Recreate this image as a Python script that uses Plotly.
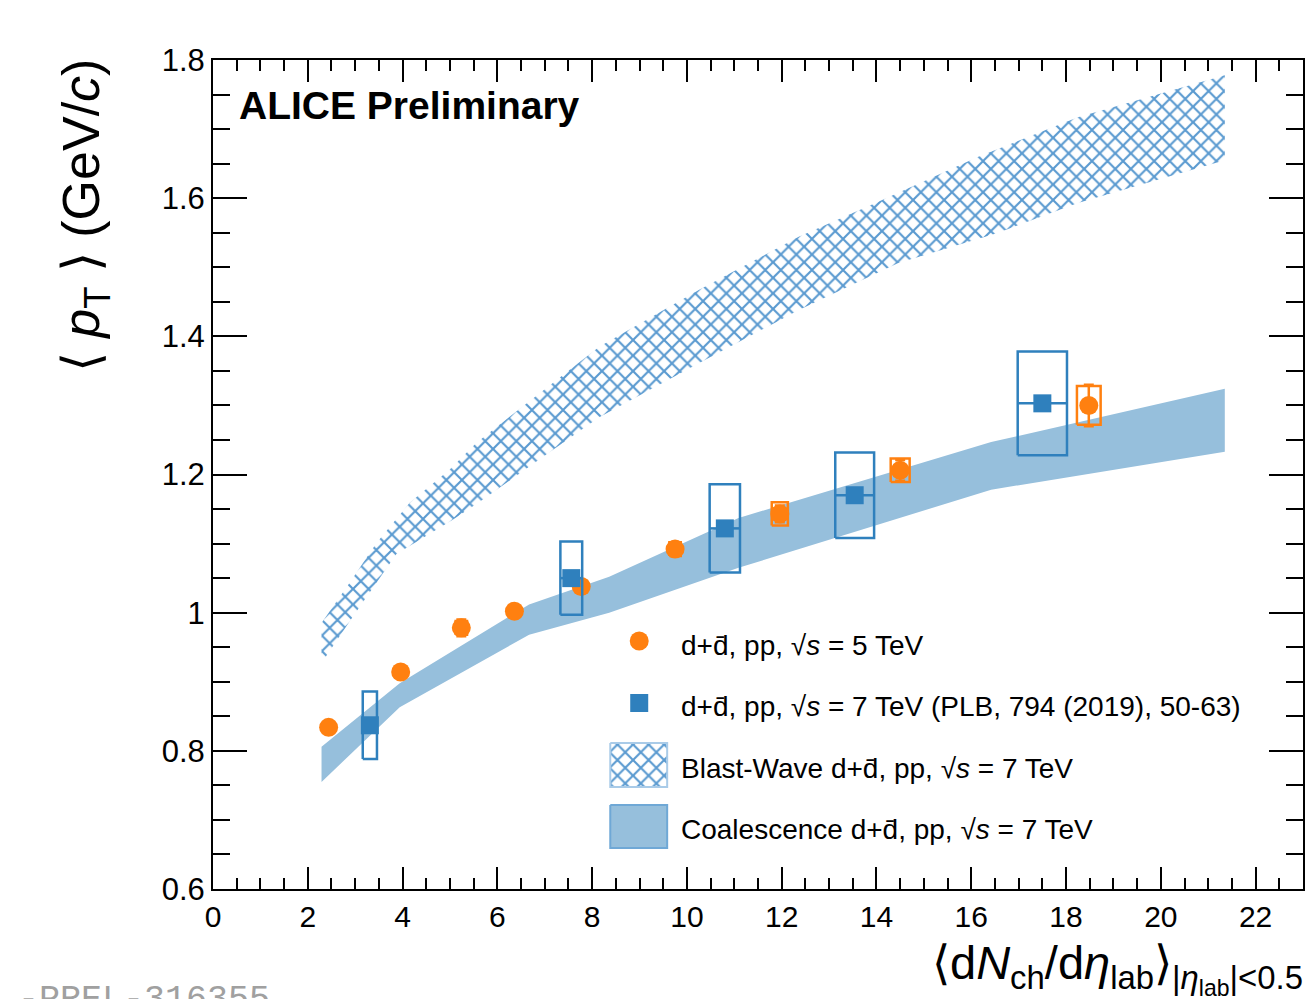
import plotly.graph_objects as go

# ---------------- data ----------------
# d+dbar, pp, sqrt(s)=5 TeV (orange circles)
x5 = [2.44, 3.96, 5.24, 6.36, 7.77, 9.75, 11.96, 14.50, 18.48]
y5 = [0.834, 0.914, 0.978, 1.002, 1.038, 1.092, 1.143, 1.206, 1.300]
stat5 = [0.004, 0.005, 0.012, 0.006, 0.008, 0.010, 0.012, 0.015, 0.030]
sysx5 = [0.10, 0.10, 0.12, 0.12, 0.12, 0.12, 0.17, 0.20, 0.25]
sysy5 = [0.005, 0.005, 0.010, 0.006, 0.008, 0.010, 0.017, 0.017, 0.028]

# d+dbar, pp, sqrt(s)=7 TeV (blue squares)
x7 = [3.31, 7.56, 10.80, 13.54, 17.50]
y7 = [0.837, 1.050, 1.122, 1.170, 1.303]
xerr7 = [0.15, 0.23, 0.32, 0.41, 0.52]
sysy7 = [0.049, 0.053, 0.064, 0.062, 0.075]

# Blast-Wave band
bw_x_up = [2.29, 2.88, 3.45, 4.15, 4.99, 5.56, 8.15, 10.25, 12.36, 13.98, 16.15, 18.25, 21.35]
bw_y_up = [0.985, 1.043, 1.101, 1.159, 1.207, 1.246, 1.385, 1.467, 1.544, 1.593, 1.660, 1.717, 1.778]
bw_x_lo = [2.29, 2.95, 3.87, 5.05, 5.68, 6.95, 8.15, 10.25, 12.36, 14.46, 16.57, 18.25, 21.35]
bw_y_lo = [0.927, 0.994, 1.085, 1.134, 1.163, 1.225, 1.283, 1.361, 1.438, 1.506, 1.550, 1.593, 1.655]

# Coalescence band
co_x = [2.29, 3.94, 6.67, 8.36, 11.09, 16.42, 21.35]
co_lo = [0.755, 0.863, 0.968, 1.000, 1.065, 1.178, 1.233]
co_hi = [0.806, 0.898, 1.012, 1.052, 1.137, 1.247, 1.324]

ORANGE = "#ff8010"
BLUE = "#2f80bd"
BAND = "#96bfdc"
HATCH = "#5a9ad0"
FONT = "Liberation Sans"

# plot area in pixels
PL, PR, PT, PB = 213, 1305, 60, 889


def px(xp):
    return (xp - PL) / (PR - PL)


def py(yp):
    return (PB - yp) / (PB - PT)


def boxes(xs, ys, hx, hy):
    bx, by = [], []
    for x, y, dx, dy in zip(xs, ys, hx, hy):
        bx += [x - dx, x + dx, x + dx, x - dx, x - dx, None]
        by += [y - dy, y - dy, y + dy, y + dy, y - dy, None]
    return bx, by


HATCH_PAT = dict(shape="x", fgcolor=HATCH, fgopacity=1, bgcolor="rgba(255,255,255,0)",
                 size=11, solidity=0.35)

fig = go.Figure()

# Coalescence band
fig.add_trace(go.Scatter(
    x=co_x + co_x[::-1], y=co_hi + co_lo[::-1], fill="toself", mode="lines",
    line=dict(width=0), fillcolor=BAND, hoverinfo="skip"))

# Blast-wave hatched band
fig.add_trace(go.Scatter(
    x=bw_x_up + bw_x_lo[::-1], y=bw_y_up + bw_y_lo[::-1], fill="toself", mode="lines",
    line=dict(width=0), fillcolor="rgba(0,0,0,0)", fillpattern=HATCH_PAT, hoverinfo="skip"))

# orange systematic boxes
bx, by = boxes(x5, y5, sysx5, sysy5)
fig.add_trace(go.Scatter(x=bx, y=by, mode="lines", line=dict(color=ORANGE, width=2.5), hoverinfo="skip"))
# orange points
fig.add_trace(go.Scatter(
    x=x5, y=y5, mode="markers",
    marker=dict(symbol="circle", size=19, color=ORANGE),
    error_y=dict(type="data", array=stat5, color=ORANGE, thickness=2.5, width=5)))

# blue systematic boxes
bx, by = boxes(x7, y7, xerr7, sysy7)
fig.add_trace(go.Scatter(x=bx, y=by, mode="lines", line=dict(color=BLUE, width=2.5), hoverinfo="skip"))
# blue points
fig.add_trace(go.Scatter(
    x=x7, y=y7, mode="markers",
    marker=dict(symbol="square", size=18, color=BLUE),
    error_x=dict(type="data", array=xerr7, color=BLUE, thickness=2.5, width=0)))

# ---------------- legend (overlay pixel axes) ----------------
fig.add_trace(go.Scatter(x=[640], y=[641], xaxis="x2", yaxis="y2", mode="markers",
                         marker=dict(symbol="circle", size=19, color=ORANGE)))
fig.add_trace(go.Scatter(x=[640], y=[703], xaxis="x2", yaxis="y2", mode="markers",
                         marker=dict(symbol="square", size=18, color=BLUE)))
fig.add_trace(go.Scatter(x=[611, 668, 668, 611, 611], y=[743, 743, 787, 787, 743],
                         xaxis="x2", yaxis="y2", mode="lines", fill="toself",
                         line=dict(color="#a9cbe8", width=2), fillcolor="rgba(0,0,0,0)",
                         fillpattern=HATCH_PAT))
fig.add_trace(go.Scatter(x=[611, 668, 668, 611, 611], y=[805, 805, 848, 848, 805],
                         xaxis="x2", yaxis="y2", mode="lines", fill="toself",
                         line=dict(color="#6fa8d6", width=2), fillcolor=BAND))

leg_texts = [
    "d+d\u0304, pp, \u221a<i>s</i> = 5 TeV",
    "d+d\u0304, pp, \u221a<i>s</i> = 7 TeV (PLB, 794 (2019), 50-63)",
    "Blast-Wave d+d\u0304, pp, \u221a<i>s</i> = 7 TeV",
    "Coalescence d+d\u0304, pp, \u221a<i>s</i> = 7 TeV",
]
leg_y = [645, 706, 768, 829]

annotations = []
for t, yy in zip(leg_texts, leg_y):
    annotations.append(dict(x=680, y=yy, xref="x2", yref="y2", text=t, showarrow=False,
                            xanchor="left", yanchor="middle",
                            font=dict(family=FONT, size=28, color="black")))

annotations.append(dict(x=px(237), y=py(105), xref="paper", yref="paper",
                        text="<b>ALICE Preliminary</b>", showarrow=False,
                        xanchor="left", yanchor="middle",
                        font=dict(family=FONT, size=39, color="black")))

annotations.append(dict(x=px(85), y=py(56), xref="paper", yref="paper",
                        text="\u27e8 <i>p</i><sub>T</sub> \u27e9 (GeV/<i>c</i>)", showarrow=False,
                        textangle=-90, xanchor="center", yanchor="top",
                        font=dict(family=FONT, size=52, color="black")))

annotations.append(dict(x=px(1307), y=py(934), xref="paper", yref="paper",
                        text="\u27e8d<i>N</i><sub>ch</sub>/d<i>\u03b7</i><sub>lab</sub>\u27e9<sub>|<i>\u03b7</i><sub>lab</sub>|&lt;0.5</sub>",
                        showarrow=False, xanchor="right", yanchor="top",
                        font=dict(family=FONT, size=47, color="black")))

annotations.append(dict(x=px(272), y=py(978), xref="paper", yref="paper",
                        text="-PREL-316355", showarrow=False,
                        xanchor="right", yanchor="top",
                        font=dict(family="Liberation Mono", size=35, color="#a0a0a0")))

fig.update_layout(
    width=1310, height=999,
    margin=dict(l=PL, r=1310 - PR, t=PT, b=999 - PB),
    paper_bgcolor="white", plot_bgcolor="white",
    showlegend=False,
    font=dict(family=FONT, size=30, color="black"),
    xaxis=dict(range=[0, 23], tick0=0, dtick=2, ticks="inside", ticklen=22, tickwidth=2,
               tickcolor="black", showline=True, linewidth=2, linecolor="black", mirror="ticks",
               showgrid=False, zeroline=False, tickfont=dict(size=30, family=FONT),
               minor=dict(dtick=0.5, ticks="inside", ticklen=11, tickwidth=2, tickcolor="black",
                          showgrid=False)),
    yaxis=dict(range=[0.6, 1.8], tick0=0.6, dtick=0.2, ticks="inside", ticklen=34, tickwidth=2,
               tickcolor="black", showline=True, linewidth=2, linecolor="black", mirror="ticks",
               showgrid=False, zeroline=False, tickfont=dict(size=31, family=FONT),
               minor=dict(dtick=0.05, ticks="inside", ticklen=17, tickwidth=2, tickcolor="black",
                          showgrid=False)),
    xaxis2=dict(range=[PL, PR], overlaying="x", visible=False, fixedrange=True),
    yaxis2=dict(range=[PB, PT], overlaying="y", visible=False, fixedrange=True),
    annotations=annotations,
)

fig.write_html("out.html")
